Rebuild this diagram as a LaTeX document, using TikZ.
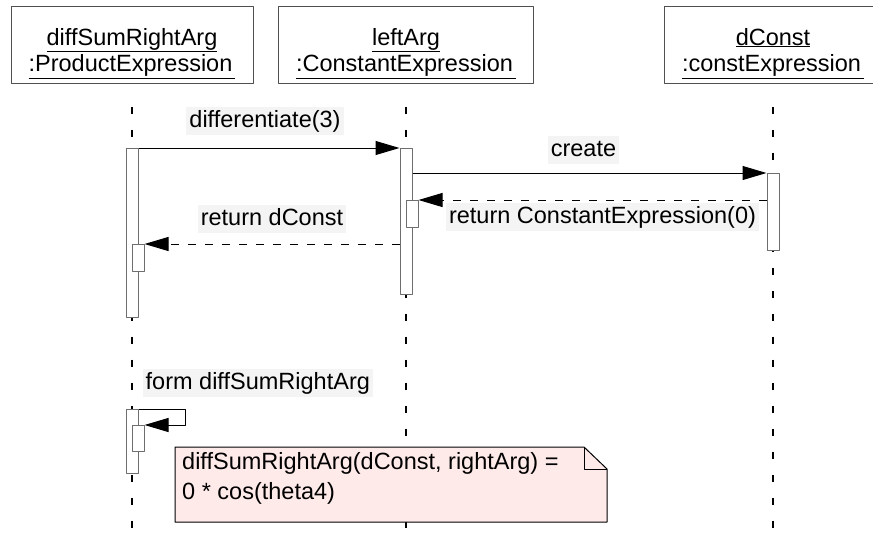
\documentclass[tikz,border=0pt]{standalone}
\usepackage{fontspec}
\setmainfont{Liberation Sans}
\usetikzlibrary{arrows.meta}

\definecolor{notepink}{RGB}{255,234,234}
\definecolor{labelgray}{RGB}{244,244,244}
\definecolor{headgray}{RGB}{80,80,80}
\definecolor{actgray}{RGB}{110,110,110}

\tikzset{
	head/.style={draw=headgray,line width=1pt,align=center,inner sep=0pt,
		text height=65.5pt,text depth=11.5pt,font=\fontsize{23.5}{26.5}\selectfont},
	act/.style={draw=actgray,fill=white,line width=1pt,minimum width=12pt,inner sep=0pt,anchor=north},
	lifeline/.style={line width=1.2pt,dash pattern=on 7pt off 16pt},
	call/.style={->,line width=1pt},
	ret/.style={->,line width=1pt,dash pattern=on 8pt off 9pt},
	lbl/.style={fill=labelgray,inner xsep=3pt,inner ysep=1.5pt,text height=19pt,text depth=6pt},
}

\begin{document}
\begin{tikzpicture}[x=1pt,y=-1pt,>={Triangle[length=24pt,width=14pt]},line join=round,font=\fontsize{23.5}{28}\selectfont]
	\useasboundingbox (0,0) rectangle (873,536);
	
	% objects
	\node[head,minimum width=242pt] (prod) at (132,44.5) {\underline{diffSumRightArg}\\\underline{:ProductExpression\kern3pt}};
	\node[head,minimum width=255pt] (left) at (406,44.5) {\underline{leftArg}\\\underline{:ConstantExpression\kern3pt}};
	\node[head,minimum width=218pt] (dconst) at (773,44.5) {\underline{dConst}\\\underline{:constExpression\kern3pt}};
	
	\foreach \n in {prod,left,dconst}
	\draw[lifeline] ([yshift=-23pt]\n.south) -- (\n.south |- 0,536);
	
	% activations
	\node[act,minimum height=169pt] (a1) at (132,148) {};
	\node[act,minimum height=27pt] (a1n) at (138,244) {};
	\node[act,minimum height=146pt] (a2) at (406,148) {};
	\node[act,minimum height=27pt] (a2n) at (412,200) {};
	\node[act,minimum height=77pt] (a3) at (773,173) {};
	\node[act,minimum height=64pt] (a1b) at (132,409) {};
	\node[act,minimum height=26pt] (a1bn) at (138,425) {};
	
	% messages
	\draw[call] (a1.north east) -- node[lbl,above=13pt,xshift=-4pt] {differentiate(3)} (a2.north west);
	\draw[call] ([yshift=-25pt]a2.north east) -- node[lbl,above=9pt,xshift=-6pt] {create} (a3.north west);
	\draw[ret] ([yshift=-27pt]a3.north west) -- node[lbl,below=2pt,xshift=10pt] {return ConstantExpression(0)} (a2n.north east);
	\draw[ret] (a2.west |- a1n.north) -- node[lbl,above=11pt] {return dConst} (a1n.north east);
	\draw[call] (a1b.north east) -- ++(47,0) |- (a1bn.north east);
	\node[lbl,anchor=south west] (formlbl) at ([xshift=4pt,yshift=12pt]a1b.north east) {form diffSumRightArg};
	
	% note
	\path (175,447) coordinate (nw)
	(607,522) coordinate (se)
	(nw -| se) coordinate (ne);
	\draw[fill=notepink,line width=1pt] (nw) -- ([xshift=-23pt]ne) -- ([yshift=-22pt]ne) -- (se) -- (nw |- se) -- cycle;
	\draw[line width=1pt] ([xshift=-23pt]ne) |- ([yshift=-22pt]ne);
	\node[anchor=north west,align=left,inner sep=0pt,font=\fontsize{23.5}{30}\selectfont] (notetext) at ([xshift=7pt,yshift=-5pt]nw) {diffSumRightArg(dConst, rightArg) =\\0 * cos(theta4)};
\end{tikzpicture}
\end{document}
